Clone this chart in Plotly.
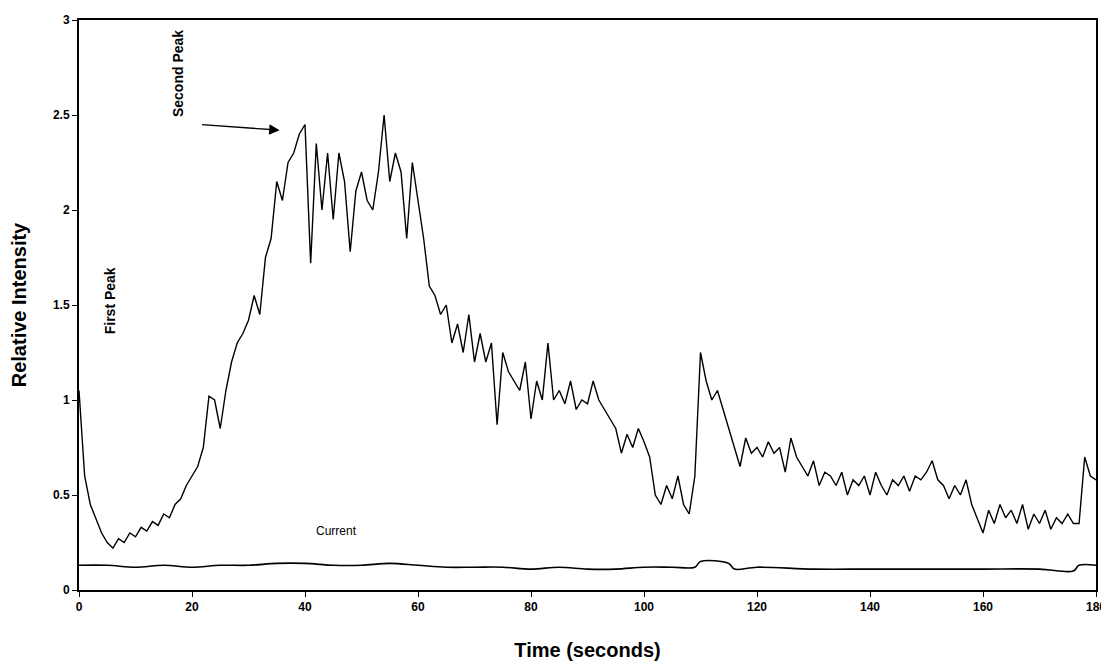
import plotly.graph_objects as go

time_s = list(range(0, 181))
intensity = [1.05, 0.6, 0.45, 0.38, 0.3, 0.25, 0.22, 0.27, 0.25, 0.3,
             0.28, 0.33, 0.31, 0.36, 0.34, 0.4, 0.38, 0.45, 0.48, 0.55,
             0.6, 0.65, 0.75, 1.02, 1.0, 0.85, 1.05, 1.2, 1.3, 1.35,
             1.42, 1.55, 1.45, 1.75, 1.85, 2.15, 2.05, 2.25, 2.3, 2.4,
             2.45, 1.72, 2.35, 2.0, 2.3, 1.95, 2.3, 2.15, 1.78, 2.1,
             2.2, 2.05, 2.0, 2.2, 2.5, 2.15, 2.3, 2.2, 1.85, 2.25,
             2.05, 1.85, 1.6, 1.55, 1.45, 1.5, 1.3, 1.4, 1.25, 1.45,
             1.2, 1.35, 1.2, 1.3, 0.87, 1.25, 1.15, 1.1, 1.05, 1.2,
             0.9, 1.1, 1.0, 1.3, 1.0, 1.05, 0.98, 1.1, 0.95, 1.0,
             0.98, 1.1, 1.0, 0.95, 0.9, 0.85, 0.72, 0.82, 0.75, 0.85,
             0.78, 0.7, 0.5, 0.45, 0.55, 0.48, 0.6, 0.45, 0.4, 0.6,
             1.25, 1.1, 1.0, 1.05, 0.95, 0.85, 0.75, 0.65, 0.8, 0.72,
             0.75, 0.7, 0.78, 0.72, 0.75, 0.62, 0.8, 0.7, 0.65, 0.6,
             0.68, 0.55, 0.62, 0.6, 0.55, 0.62, 0.5, 0.58, 0.55, 0.6,
             0.5, 0.62, 0.55, 0.5, 0.58, 0.55, 0.6, 0.52, 0.6, 0.58,
             0.62, 0.68, 0.58, 0.55, 0.48, 0.55, 0.5, 0.58, 0.45, 0.38,
             0.3, 0.42, 0.35, 0.45, 0.38, 0.42, 0.35, 0.45, 0.32, 0.4,
             0.35, 0.42, 0.32, 0.38, 0.35, 0.4, 0.35, 0.35, 0.7, 0.6,
             0.58]

current_t = [0, 5, 10, 15, 20, 25, 30, 35, 40, 45, 50, 55, 60, 65, 70, 75,
             80, 85, 90, 95, 100, 105, 109, 110, 115, 116, 120, 130, 140,
             150, 160, 170, 176, 177, 180]
current = [0.13, 0.13, 0.12, 0.13, 0.12, 0.13, 0.13, 0.14, 0.14, 0.13, 0.13, 0.14,
           0.13, 0.12, 0.12, 0.12, 0.11, 0.12, 0.11, 0.11, 0.12, 0.12, 0.12,
           0.15, 0.14, 0.11, 0.12, 0.11, 0.11, 0.11, 0.11, 0.11, 0.10, 0.13,
           0.13]

fig = go.Figure()
fig.add_trace(go.Scatter(x=time_s, y=intensity, mode="lines",
                         line=dict(color="black", width=1.4)))
fig.add_trace(go.Scatter(x=current_t, y=current, mode="lines", line_shape="spline",
                         line=dict(color="black", width=1.6)))

fig.add_annotation(x=5.5, y=1.52, text="<b>First Peak</b>", textangle=-90,
                   showarrow=False, font=dict(size=14))
fig.add_annotation(x=17.5, y=2.72, text="<b>Second Peak</b>", textangle=-90,
                   showarrow=False, font=dict(size=14))
fig.add_annotation(x=35.5, y=2.42, ax=21.5, ay=2.45, xref="x", yref="y",
                   axref="x", ayref="y", text="", showarrow=True,
                   arrowhead=2, arrowsize=1.6, arrowwidth=1.3, arrowcolor="black")
fig.add_annotation(x=45.5, y=0.31, text="Current", showarrow=False,
                   font=dict(size=12))

axis = dict(showline=True, linecolor="black", linewidth=2, ticks="outside",
            ticklen=5, tickcolor="black", showgrid=False, zeroline=False,
            automargin=False, mirror=True,
            tickfont=dict(size=12, weight="bold"))
fig.update_xaxes(axis, range=[0, 180], dtick=20,
                 title=dict(text="<b>Time (seconds)</b>", font=dict(size=20), standoff=30))
fig.update_yaxes(axis, range=[0, 3], dtick=0.5,
                 title=dict(text="<b>Relative Intensity</b>", font=dict(size=20), standoff=25))

fig.update_layout(width=1101, height=654, plot_bgcolor="white", paper_bgcolor="white",
                  showlegend=False, margin=dict(l=71, r=13, t=12, b=72),
                  font=dict(family="Liberation Sans, Arial", color="black"))
fig.write_html("out.html")
